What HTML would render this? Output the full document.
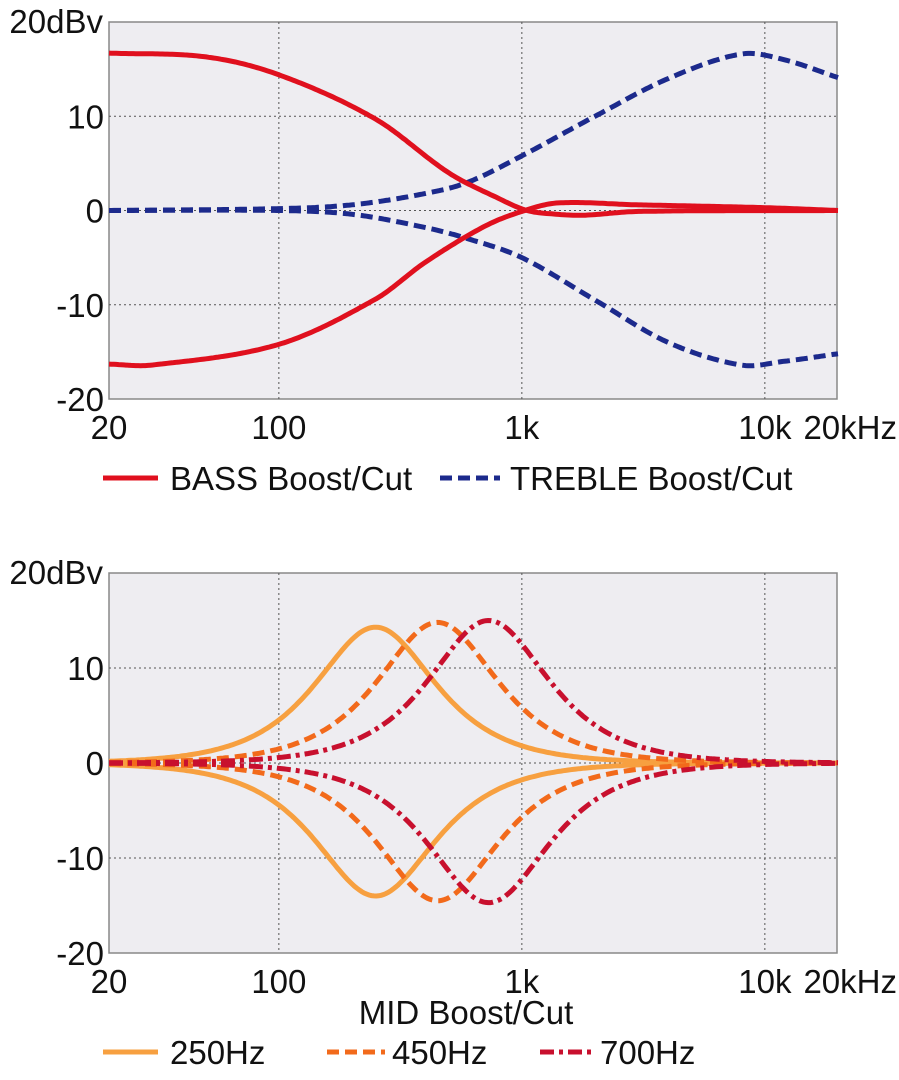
<!DOCTYPE html>
<html><head><meta charset="utf-8"><style>
body{margin:0;background:#fff;width:899px;height:1080px;overflow:hidden}
svg{display:block}
text{font-family:"Liberation Sans",sans-serif;fill:#111;font-size:33px}
</style></head><body>
<svg id="s" width="899" height="1080" viewBox="0 0 899 1080"></svg>
<script>
const s=document.getElementById('s');let h='';
const X=f=>109+243*Math.log10(f/20);
function plot(top,bot){
  const mid=(top+bot)/2, sc=(bot-top)/40;
  h+=`<rect x="109" y="${top}" width="728" height="${bot-top}" fill="#eeedf1" stroke="#888" stroke-width="1.5"/>`;
  [10,0,-10].forEach(v=>{const y=mid-v*sc;h+=`<line x1="109" x2="837" y1="${y}" y2="${y}" stroke="#555" stroke-width="1" stroke-dasharray="2,3"/>`});
  [100,1000,10000].forEach(f=>{const x=X(f);h+=`<line x1="${x}" x2="${x}" y1="${top}" y2="${bot}" stroke="#555" stroke-width="1" stroke-dasharray="2,3"/>`});
  h+=`<text x="103" y="${top+11}" text-anchor="end">20dBv</text>`;
  [[10,'10'],[0,'0'],[-10,'-10'],[-20,'-20']].forEach(([v,t])=>{h+=`<text x="104" y="${mid-v*sc+12}" text-anchor="end">${t}</text>`});
  const ly=bot+40;
  h+=`<text x="${X(20)}" y="${ly}" text-anchor="middle">20</text><text x="${X(100)}" y="${ly}" text-anchor="middle">100</text><text x="${X(1000)}" y="${ly}" text-anchor="middle">1k</text><text x="${X(10000)}" y="${ly}" text-anchor="middle">10k</text><text x="897" y="${ly}" text-anchor="end">20kHz</text>`;
  return [mid,sc];
}
function interp(pts,f){
  const xs=pts.map(p=>Math.log10(p[0])),ys=pts.map(p=>p[1]),n=pts.length;
  const m=xs.map((x,i)=>{const a=Math.max(0,i-1),b=Math.min(n-1,i+1);return (ys[b]-ys[a])/(xs[b]-xs[a]);});
  const x=Math.log10(f);
  for(let i=0;i<n-1;i++){if(x<=xs[i+1]||i==n-2){const hh=xs[i+1]-xs[i],t=Math.min(1,Math.max(0,(x-xs[i])/hh));
    const t2=t*t,t3=t2*t;
    return (2*t3-3*t2+1)*ys[i]+(t3-2*t2+t)*hh*m[i]+(-2*t3+3*t2)*ys[i+1]+(t3-t2)*hh*m[i+1];}}
}
function path(fn,mid,sc,col,dash){let d='';for(let i=0;i<=300;i++){const f=20*Math.pow(1000,i/300);d+=(i?'L':'M')+X(f).toFixed(1)+','+(mid-fn(f)*sc).toFixed(1);}
  h+=`<path d="${d}" fill="none" stroke="${col}" stroke-width="5" ${dash?'stroke-dasharray="'+dash+'"':''}/>`;}
let [m,sc]=plot(22,399);
const bb=[[20,16.7],[50,16.3],[100,14.4],[250,9.7],[500,4],[800,1.3],[1050,0],[1400,-0.4],[1800,-0.5],[3000,-0.1],[20000,0]];
const bc=[[20,-16.3],[30,-16.4],[100,-14.2],[250,-9.4],[400,-5.5],[700,-1.7],[1000,-0.1],[1400,0.8],[3000,0.6],[10000,0.3],[20000,0]];
const tb=[[20,0],[100,0.2],[200,0.6],[400,1.8],[600,3],[1000,5.8],[2000,10],[4000,14],[8000,16.6],[12000,16],[20000,14.1]];
const tc=[[20,0],[100,0],[200,-0.4],[400,-1.8],[600,-3],[1000,-5],[2000,-9.5],[4000,-14],[8000,-16.4],[12000,-16],[20000,-15.2]];
path(f=>interp(tb,f),m,sc,'#1c2a8c','12,6');path(f=>interp(tc,f),m,sc,'#1c2a8c','12,6');
path(f=>interp(bb,f),m,sc,'#e0101e');path(f=>interp(bc,f),m,sc,'#e0101e');
h+=`<line x1="103" x2="158" y1="478" y2="478" stroke="#e0101e" stroke-width="5"/><text x="170" y="490">BASS Boost/Cut</text>`;
h+=`<line x1="440" x2="500" y1="478" y2="478" stroke="#1c2a8c" stroke-width="5" stroke-dasharray="12,6"/><text x="510" y="490">TREBLE Boost/Cut</text>`;
[m,sc]=plot(573,953);
const bell=(G,f0,Q)=>f=>{const r=f/f0-f0/f;return G/(1+Q*Q*r*r)};
[[250,'#f7a040',''],[450,'#f26a1b','12,6'],[730,'#c8102e','14,5,4,5']].forEach(([f0,c,d])=>{
  const G=f0==250?14.3:f0==450?14.8:15;
  path(bell(G,f0,0.7),m,sc,c,d);path(bell(-G+0.3,f0,0.7),m,sc,c,d);});
h+=`<text x="466" y="1024" text-anchor="middle">MID Boost/Cut</text>`;
h+=`<line x1="103" x2="158" y1="1052" y2="1052" stroke="#f7a040" stroke-width="5"/><text x="170" y="1064">250Hz</text>`;
h+=`<line x1="327" x2="385" y1="1052" y2="1052" stroke="#f26a1b" stroke-width="5" stroke-dasharray="12,6"/><text x="392" y="1064">450Hz</text>`;
h+=`<line x1="540" x2="594" y1="1052" y2="1052" stroke="#c8102e" stroke-width="5" stroke-dasharray="14,5,4,5"/><text x="600" y="1064">700Hz</text>`;
s.innerHTML=h;
</script>
</body></html>
